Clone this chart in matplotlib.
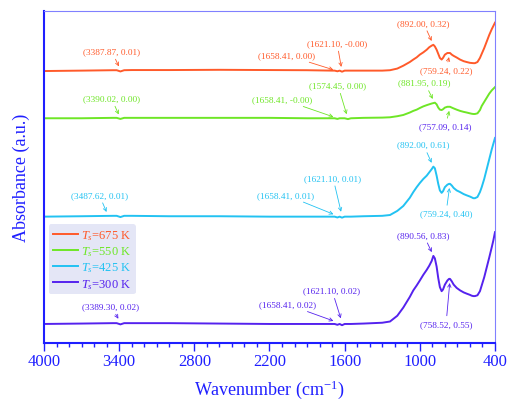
import numpy as np
import matplotlib
matplotlib.use("Agg")
import matplotlib.pyplot as plt
from matplotlib.lines import Line2D

plt.rcParams['font.family'] = ['Liberation Serif', 'DejaVu Serif']
plt.rcParams['mathtext.fontset'] = 'custom'
plt.rcParams['mathtext.rm'] = 'Liberation Serif'
plt.rcParams['mathtext.it'] = 'Liberation Serif:italic'

# wavenumber grid (cm-1)
wn = [4000, 3700, 3450, 3420, 3390, 3360, 3300, 3000, 2600, 2200,
      1900, 1700, 1680, 1658, 1640, 1621, 1600, 1574, 1550, 1450,
      1300, 1238, 1180, 1132, 1080, 1052, 1025, 1000, 972, 945,
      925, 905, 892, 880, 866, 853, 840, 826, 815, 800,
      780, 767, 759, 745, 730, 706, 679, 650, 626, 600,
      586, 573, 560, 540, 520, 506, 486, 466, 446, 426,
      413, 400]

a300 = [0.00, 0.005, 0.01, 0.01, -0.005, 0.01, 0.01, 0.01, 0.005, 0.00,
        0.00, 0.00, 0.00, -0.01, 0.00, -0.015, 0.00, 0.00, 0.00, 0.005,
        0.015, 0.03, 0.10, 0.20, 0.33, 0.41, 0.47, 0.53, 0.60, 0.66,
        0.71, 0.77, 0.83, 0.80, 0.70, 0.56, 0.45, 0.40, 0.42, 0.48,
        0.53, 0.55, 0.55, 0.52, 0.48, 0.44, 0.41, 0.385, 0.37, 0.355,
        0.345, 0.34, 0.34, 0.35, 0.40, 0.47, 0.57, 0.69, 0.81, 0.935,
        1.02, 1.12]

a425 = [0.00, 0.005, 0.01, 0.01, -0.005, 0.01, 0.01, 0.005, 0.005, 0.00,
        0.00, 0.00, 0.00, -0.01, 0.00, -0.012, 0.00, 0.00, 0.00, 0.005,
        0.01, 0.02, 0.07, 0.13, 0.23, 0.30, 0.36, 0.41, 0.46, 0.50,
        0.54, 0.58, 0.61, 0.59, 0.50, 0.40, 0.32, 0.29, 0.31, 0.36,
        0.39, 0.40, 0.40, 0.38, 0.35, 0.32, 0.30, 0.275, 0.26, 0.245,
        0.235, 0.225, 0.225, 0.24, 0.30, 0.36, 0.46, 0.58, 0.70, 0.82,
        0.89, 0.96]

a550 = [0.00, 0.00, 0.005, 0.005, -0.008, 0.005, 0.005, 0.005, 0.005, 0.005,
        0.00, 0.00, 0.00, -0.008, 0.00, 0.00, 0.00, -0.01, 0.00, 0.005,
        0.008, 0.012, 0.025, 0.04, 0.07, 0.09, 0.105, 0.125, 0.145, 0.16,
        0.17, 0.18, 0.185, 0.19, 0.17, 0.13, 0.105, 0.10, 0.11, 0.13,
        0.14, 0.14, 0.14, 0.13, 0.12, 0.105, 0.09, 0.078, 0.07, 0.06,
        0.055, 0.052, 0.052, 0.06, 0.10, 0.15, 0.20, 0.25, 0.30, 0.34,
        0.36, 0.38]

a675 = [0.00, 0.005, 0.01, 0.01, -0.005, 0.01, 0.012, 0.012, 0.015, 0.012,
        0.01, 0.005, 0.005, -0.003, 0.005, -0.008, 0.005, 0.005, 0.005, 0.005,
        0.005, 0.01, 0.03, 0.065, 0.11, 0.14, 0.167, 0.20, 0.228, 0.26,
        0.29, 0.31, 0.32, 0.30, 0.26, 0.21, 0.16, 0.14, 0.16, 0.20,
        0.22, 0.22, 0.22, 0.20, 0.185, 0.165, 0.14, 0.12, 0.11, 0.10,
        0.098, 0.096, 0.096, 0.11, 0.16, 0.21, 0.28, 0.36, 0.44, 0.51,
        0.55, 0.59]

labels = ['675 K', '550 K', '425 K', '300 K']
colors = ['#ff5a2a', '#6ee626', '#22c2f2', '#5522ee']
offsets = [3.085, 2.509, 1.309, 0.0]
series = [a675, a550, a425, a300]

# labelled points (wavenumber, absorbance) for each curve
peaks_675 = [(3387.87, 0.01), (1658.41, 0.00), (1621.10, -0.00), (892.00, 0.32), (759.24, 0.22)]
peaks_550 = [(3390.02, 0.00), (1658.41, -0.00), (1574.45, 0.00), (881.95, 0.19), (757.09, 0.14)]
peaks_425 = [(3487.62, 0.01), (1658.41, 0.01), (1621.10, 0.01), (892.00, 0.61), (759.24, 0.40)]
peaks_300 = [(3389.30, 0.02), (1658.41, 0.02), (1621.10, 0.02), (890.56, 0.83), (758.52, 0.55)]
peaks = [peaks_675, peaks_550, peaks_425, peaks_300]

# text offsets in pixels (dx, dy) for the five labels of each curve
txt_off = [
    [(-9, 19), (-51, 16), (-5, 28), (-10, 22), (-4, -17)],
    [(-9, 20), (-55, 19), (-10, 33), (-10, 20), (-5, -19.5)],
    [(-9, 21), (-52, 21), (-9, 38), (-10, 22), (-4, -29.5)],
    [(-9.5, 16), (-50, 18), (-10, 32), (-10, 21), (-4, -45)],
]

blue = '#1f1fff'
fig = plt.figure(figsize=(5.08, 4.02), dpi=100)
ax = fig.add_axes([0.0866, 0.1443, 0.8878, 0.8258])

for s, lab, c, off in zip(series, labels, colors, offsets):
    ax.plot(wn, np.array(s) + off, color=c, lw=1.4)

for i, (pk, c, off) in enumerate(zip(peaks, colors, offsets)):
    for j, (w, v) in enumerate(pk):
        tc = c
        if i == 1 and j == 4:
            tc = colors[3]   # this label is purple in the original
        ax.annotate('(%.2f, %.2f)' % (w, v), xy=(w, v + off),
                    xytext=txt_off[i][j], textcoords='offset pixels',
                    ha='center', va='center', fontsize=6.7, color=tc,
                    arrowprops=dict(arrowstyle='->', color=c, lw=0.6,
                                    shrinkA=1, shrinkB=3, mutation_scale=6))

ax.set_xlim(4000, 400)
ax.set_ylim(-0.232, 3.817)
ax.set_xticks([4000, 3400, 2800, 2200, 1600, 1000, 400])
ax.set_xticks(np.arange(400, 4001, 100), minor=True)
ax.set_yticks([])
ax.tick_params(axis='x', which='major', length=5.5, width=1, color=blue,
               labelcolor=blue, labelsize=12, pad=2)
ax.tick_params(axis='x', which='minor', length=3, width=1, color=blue)
for side in ['left', 'bottom']:
    ax.spines[side].set_color(blue)
    ax.spines[side].set_linewidth(1.5)
for side in ['top', 'right']:
    ax.spines[side].set_color('#8080ff')
    ax.spines[side].set_linewidth(0.8)

ax.set_xlabel(r'Wavenumber (cm$^{-1}$)', fontsize=13, color=blue, labelpad=6)
ax.set_ylabel('Absorbance (a.u.)', fontsize=13, color=blue, labelpad=10)

handles = [Line2D([], [], color=c, lw=1.4) for c in colors]
leg_labels = [r'$T_s$=' + l for l in labels]
leg = ax.legend(handles, leg_labels, loc='upper left', bbox_to_anchor=(0.011, 0.358),
                borderaxespad=0, fontsize=9, handlelength=2.0, frameon=True,
                labelspacing=0.2, borderpad=0.3, handletextpad=0.3)
leg.get_frame().set_facecolor('#e4e6f6')
leg.get_frame().set_edgecolor('none')
leg.get_frame().set_alpha(1)
for t, c in zip(leg.get_texts(), colors):
    t.set_color(c)

fig.savefig('out.png', dpi=100)
